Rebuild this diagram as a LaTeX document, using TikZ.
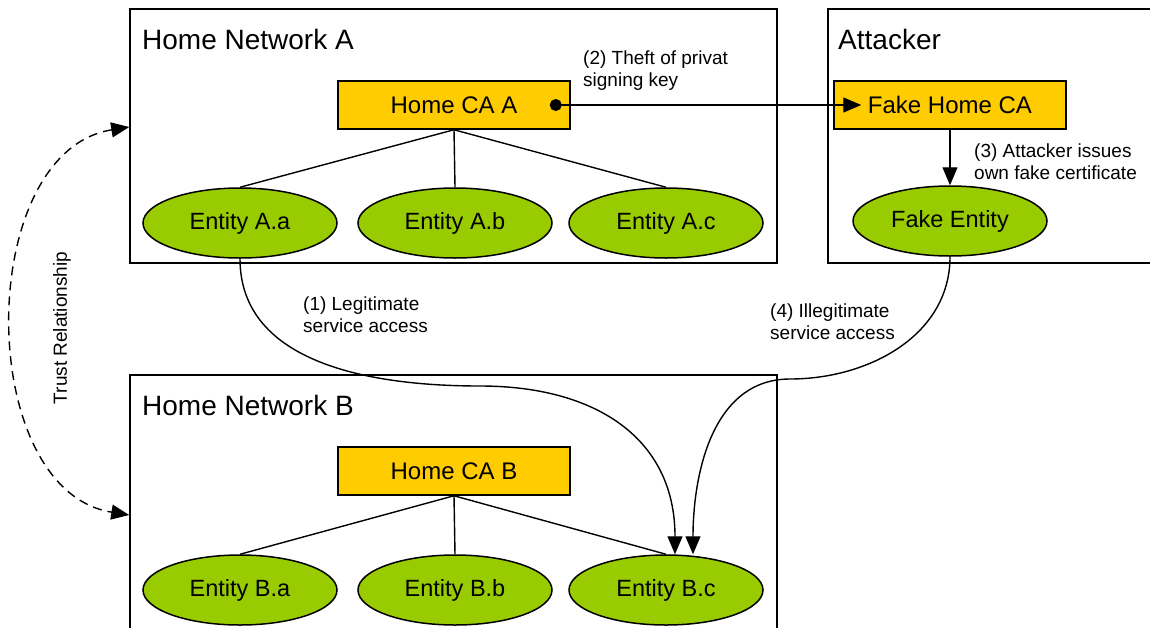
\documentclass[tikz,border=0pt]{standalone}
\usepackage{fontspec}
\setmainfont{Liberation Sans}
\usepackage{tikz}
\usetikzlibrary{shapes, arrows.meta, positioning, shapes.geometric}
\definecolor{cayellow}{HTML}{FFCC00}
\definecolor{entgreen}{HTML}{99CC00}
\tikzset{%
  netbox/.style={rectangle, draw, line width=1.5pt, inner sep=0pt},
  nettitle/.style={font=\fontsize{28}{32}\selectfont, inner sep=0pt, anchor=base west},
  cablock/.style={rectangle, draw, fill=cayellow, line width=1.5pt, minimum width=232pt, minimum height=48pt, inner sep=0pt, font=\fontsize{24}{28}\selectfont},
  entity/.style={ellipse, draw, fill=entgreen, line width=1.5pt, minimum width=194pt, minimum height=70pt, inner sep=0pt, font=\fontsize{23.5}{28}\selectfont},
  steplabel/.style={align=left, font=\fontsize{19}{22}\selectfont, inner sep=0pt, anchor=base west},
  line/.style={draw, line width=1.4pt},
  flow/.style={draw, line width=1.4pt, -{Triangle[length=18pt,width=15pt]}},
  trust/.style={draw, line width=1.4pt, dash pattern=on 9pt off 6pt, {Triangle[length=18pt,width=15pt]}-{Triangle[length=18pt,width=15pt]}}}

\begin{document}
\begin{tikzpicture}[x=1pt, y=-1pt]
    \useasboundingbox (0,0) rectangle (1150,627);
    % network boxes
    \node [netbox, minimum width=647pt, minimum height=254pt] (hna) at (453.5,136) {};
    \node [netbox, minimum width=340pt, minimum height=254pt] (att) at (998,136) {};
    \node [netbox, minimum width=647pt, minimum height=254pt] (hnb) at (453.5,502) {};
    \node [nettitle] (titleA) at (142,49) {Home Network A};
    \node [nettitle] (titleAtt) at (838,49) {Attacker};
    \node [nettitle] (titleB) at (142,415) {Home Network B};

    \node [cablock] (caA) at (454,105) {Home CA A};
    \node [cablock] (caB) at (454,471) {Home CA B};
    \node [cablock] (fakeCA) at (950,105) {Fake Home CA};
    \node [entity] (fakeEnt) at (950,221) {Fake Entity};

    \foreach \n/\x in {a/240, b/455, c/666} {
      \node [entity] (entA\n) at (\x,223) {Entity A.\n};
      \node [entity] (entB\n) at (\x,590) {Entity B.\n};
      \draw [line] (caA.south) -- (entA\n.north);
      \draw [line] (caB.south) -- (entB\n.north);
    }

    % attack steps
    \coordinate (bend1) at (480,386);
    \coordinate (bend4) at (790,379);
    \draw [line, {Circle[length=12pt]}-{Triangle[length=18pt,width=15pt]}] ([xshift=-21pt]caA.east) -- ([xshift=28pt]fakeCA.west);
    \draw [flow] (fakeCA.south) -- (fakeEnt.north);
    \draw [flow] (entAa.south) to[out=-90, in=180] (bend1) to[out=0, in=90, looseness=1.15] ([xshift=9pt]entBc.north);
    \draw [flow] (fakeEnt.south) to[out=-90, in=0] (bend4) to[out=180, in=90] ([xshift=27pt]entBc.north);
    \node [steplabel] (step1) at (303,332) {(1) Legitimate\\service access};
    \node [steplabel] (step2) at (583,86) {(2) Theft of privat\\signing key};
    \node [steplabel] (step3) at (974,179) {(3) Attacker issues\\own fake certificate};
    \node [steplabel] (step4) at (770,339) {(4) Illegitimate\\service access};

    \draw [trust] ([yshift=9pt]hna.west) .. controls +(-155,25) and +(-155,-25) .. ([yshift=-13pt]hnb.west);
    \node [rotate=90, font=\fontsize{19}{22}\selectfont] (trustlbl) at (62,328) {Trust Relationship};
  \end{tikzpicture}
\end{document}
